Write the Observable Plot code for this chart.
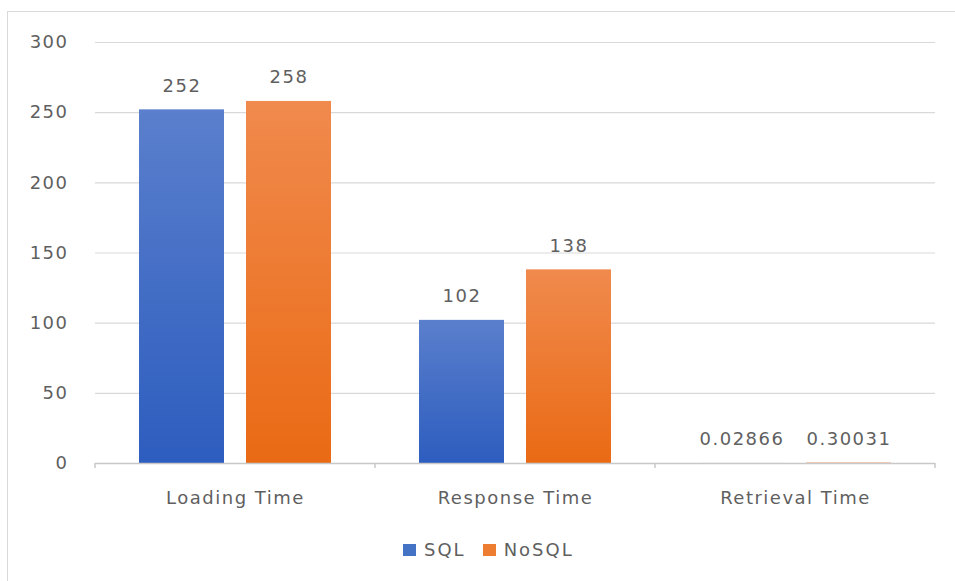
<!DOCTYPE html>
<html>
<head>
<meta charset="utf-8">
<script src="https://cdn.jsdelivr.net/npm/d3@7"></script>
<script src="https://cdn.jsdelivr.net/npm/@observablehq/plot@0.6"></script>
<style>
  html, body { margin: 0; padding: 0; background: #fff; overflow: hidden; }
  #wrap { position: relative; width: 955px; height: 581px; overflow: hidden; font-family: "DejaVu Sans", sans-serif; color: #595959; }
  #frame { position: absolute; left: 7px; top: 11px; width: 1000px; height: 700px; border: 1px solid #d9d9d9; box-sizing: border-box; }
  #plot { position: absolute; left: 0; top: 0; }
  #legend { position: absolute; left: 403px; top: 539px; display: flex; align-items: center; font-size: 18px; letter-spacing: 2px; color: #5f5f5f; }
  #legend .sw { width: 13px; height: 12px; display: inline-block; margin-right: 8px; }
  #legend .item { display: flex; align-items: center; margin-right: 17px; }
</style>
</head>
<body>
<div id="wrap">
  <div id="frame"></div>
  <div id="plot"></div>
  <div id="legend"></div>
</div>
<script>
const categories = ["Loading Time", "Response Time", "Retrieval Time"];
const series = ["SQL", "NoSQL"];
const sqlValues = [252, 102, 0.02866];
const nosqlValues = [258, 138, 0.30031];
const sqlLabels = ["252", "102", "0.02866"];
const nosqlLabels = ["258", "138", "0.30031"];
const yTicks = [0, 50, 100, 150, 200, 250, 300];
const colors = {SQL: "#4472C4", NoSQL: "#ED7D31"};

const data = [];
categories.forEach((c, i) => {
  data.push({category: c, series: "SQL", value: sqlValues[i], label: sqlLabels[i]});
  data.push({category: c, series: "NoSQL", value: nosqlValues[i], label: nosqlLabels[i]});
});

const font = "DejaVu Sans";
const textColor = "#5f5f5f";
const plot = Plot.plot({
  width: 955,
  height: 530,
  marginLeft: 95,
  marginRight: 20,
  marginTop: 42,
  marginBottom: 67,
  style: {fontFamily: font, fontSize: "18px", color: textColor, background: "transparent", letterSpacing: "1.5px"},
  fx: {domain: categories, paddingInner: 0, paddingOuter: 0, label: null},
  x: {domain: series, paddingInner: 0.2056, paddingOuter: 0.411, axis: null},
  y: {domain: [0, 300], ticks: yTicks, label: null},
  marks: [
    Plot.gridY(yTicks.filter(t => t > 0), {stroke: "#d9d9d9", strokeOpacity: 1, strokeWidth: 1.2}),
    Plot.axisY({ticks: yTicks, tickSize: 0, tickPadding: 27, label: null, fontSize: 18, fill: textColor}),
    Plot.axisFx({anchor: "bottom", tickSize: 0, tickPadding: 28, label: null, fontSize: 18, fill: textColor}),
    Plot.barY(data, {fx: "category", x: "series", y: "value",
      fill: d => d.series === "SQL" ? "url(#gradSQL)" : "url(#gradNoSQL)"}),
    Plot.ruleY([0], {stroke: "#c8c8c8", strokeWidth: 1.5}),
    Plot.text(data, {fx: "category", x: "series", y: "value", text: "label",
      dy: -24, lineAnchor: "middle", fontSize: 18, fill: textColor})
  ]
});

// gradients
const svg = d3.select(plot);
const defs = svg.insert("defs", ":first-child");
const g1 = defs.append("linearGradient").attr("id", "gradSQL").attr("x1", 0).attr("x2", 0).attr("y1", 0).attr("y2", 1);
g1.append("stop").attr("offset", "0%").attr("stop-color", "#5a7fcc");
g1.append("stop").attr("offset", "100%").attr("stop-color", "#2d5dbf");
const g2 = defs.append("linearGradient").attr("id", "gradNoSQL").attr("x1", 0).attr("x2", 0).attr("y1", 0).attr("y2", 1);
g2.append("stop").attr("offset", "0%").attr("stop-color", "#f08a4d");
g2.append("stop").attr("offset", "100%").attr("stop-color", "#ea6a14");

// small ticks at category band boundaries, from the fx scale
const fx = plot.scale("fx");
const y = plot.scale("y");
const y0 = y.apply(0);
const edges = categories.map(c => fx.apply(c)).concat([fx.apply(categories[categories.length - 1]) + fx.bandwidth]);
const tg = svg.append("g").attr("stroke", "#c8c8c8").attr("stroke-width", 1.5);
edges.forEach(xp => {
  tg.append("line").attr("x1", xp).attr("x2", xp).attr("y1", y0).attr("y2", y0 + 5);
});

document.getElementById("plot").appendChild(plot);

// legend
const leg = document.getElementById("legend");
series.forEach(s => {
  const item = document.createElement("span");
  item.className = "item";
  const sw = document.createElement("span");
  sw.className = "sw";
  sw.style.background = colors[s];
  item.appendChild(sw);
  item.appendChild(document.createTextNode(s));
  leg.appendChild(item);
});
</script>
</body>
</html>
